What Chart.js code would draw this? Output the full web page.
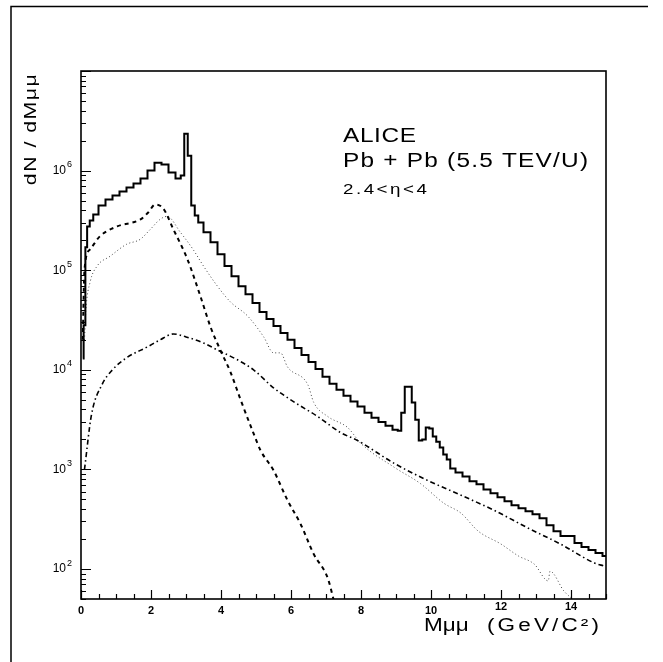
<!DOCTYPE html>
<html>
<head>
<meta charset="utf-8">
<script src="https://cdn.jsdelivr.net/npm/chart.js@4/dist/chart.umd.min.js"></script>
<style>
html,body{margin:0;padding:0;background:#fff;}
canvas{display:block;}
</style>
</head>
<body>
<canvas id="c" width="663" height="662"></canvas>
<script>
// ---- data ----
const totalMass  = [0.05,0.1,0.15,0.2,0.3,0.4,0.6,0.8,1.0,1.2,1.4,1.6,1.8,2.0,2.2,2.4,2.6,2.8,2.9,3.0,3.1,3.2,3.3,3.4,3.6,3.8,4.0,4.2,4.4,4.6,4.8,5.0,5.2,5.4,5.6,5.8,6.0,6.2,6.4,6.6,6.8,7.0,7.2,7.4,7.6,7.8,8.0,8.2,8.4,8.6,8.8,9.0,9.1,9.2,9.3,9.4,9.5,9.6,9.7,9.8,9.9,10.0,10.1,10.2,10.3,10.4,10.5,10.6,10.8,11.0,11.2,11.4,11.6,11.8,12.0,12.2,12.4,12.6,12.8,13.0,13.2,13.4,13.6,13.8,14.0,14.2,14.4,14.6,14.8,15.0];
const totalYield = [13000,28000,170000,275000,316000,363000,447000,513000,562000,617000,676000,741000,832000,1000000,1200000,1150000,955000,832000,891000,2340000,1410000,447000,355000,302000,240000,191000,145000,110000,87000,69000,57500,46800,38000,32400,27500,23400,20000,16600,14100,12000,10200,8500,7240,6300,5500,4800,4270,3700,3300,3000,2750,2500,2450,3700,6760,6760,4700,3160,1950,2000,2630,2570,2140,1900,1660,1410,1260,1020,930,850,760,710,630,575,525,480,436,407,380,355,324,275,240,214,214,182,166,155,145,135];

const dashedMass  = [0.05,0.1,0.26,0.54,1.03,1.7,1.92,2.12,2.35,2.64,3.04,3.41,3.7,3.98,4.27,4.56,4.93,5.13,5.5,5.9,6.28,6.65,7.05,7.22];
const dashedYield = [20000,102000,162000,219000,275000,324000,380000,457000,417000,257000,129000,55000,27000,15800,9500,5000,2300,1550,980,490,280,141,81,49];

const dottedMass  = [0.1,0.14,0.26,0.46,0.83,1.3,1.69,1.98,2.26,2.46,2.84,3.2,3.5,3.9,4.27,4.76,5.22,5.5,5.7,5.9,6.48,6.65,7.05,7.62,8.0,8.95,9.7,10.37,10.86,11.35,12.0,12.5,12.95,13.35,13.4,13.8,14.1];
const dottedYield = [20000,40000,76000,110000,138000,182000,204000,257000,324000,347000,240000,162000,110000,69000,48000,34700,21400,14800,14800,10700,7100,4700,3400,2630,1820,1050,720,457,363,240,178,135,112,76,95,60,48];

const dashDotMass  = [0.1,0.3,0.6,0.9,1.3,1.9,2.26,2.64,3.0,3.5,3.9,4.47,4.93,5.5,6.07,6.76,7.42,7.9,8.95,9.9,10.86,11.8,12.78,13.7,14.67,14.95];
const dashDotYield = [1000,3550,7100,10000,13200,17000,20000,22900,21400,18600,15800,12600,10000,6600,4800,3400,2340,1950,1150,776,550,389,257,178,115,107];

const xTickLabels = [0,2,4,6,8,10,12,14];
const yTickExponents = [2,3,4,5,6];
const annotationLines = ["ALICE", "Pb + Pb (5.5 TEV/U)", "2.4<\u03B7<4"];
const yTitle = "dN / dM\u03BC\u03BC";
const xTitleA = "M\u03BC\u03BC";
const xTitleB = "(GeV/C\u00B2)";

const pts = (xs, ys) => xs.map((x, i) => ({x, y: ys[i]}));
const FF = '"Liberation Sans", Arial, sans-serif';

function wideText(ctx, str, x, y, size, sx, ls, align) {
  ctx.save();
  ctx.translate(x, y);
  ctx.scale(sx, 1);
  ctx.font = size + 'px ' + FF;
  ctx.letterSpacing = ls + 'px';
  ctx.textAlign = align || 'left';
  ctx.textBaseline = 'alphabetic';
  ctx.fillText(str, 0, 0);
  ctx.restore();
}

const decor = {
  id: 'decor',
  afterDraw(chart) {
    const ctx = chart.ctx, a = chart.chartArea;
    const xs = chart.scales.x, ys = chart.scales.y;
    ctx.save();
    ctx.strokeStyle = '#000';
    ctx.fillStyle = '#000';
    // outer page frame (top and left)
    ctx.lineWidth = 1.5;
    ctx.beginPath();
    ctx.moveTo(11, 662); ctx.lineTo(11, 6.5); ctx.lineTo(648, 6.5);
    ctx.stroke();
    // plot frame
    ctx.lineWidth = 1.6;
    ctx.strokeRect(a.left, a.top, a.right - a.left, a.bottom - a.top);
    // x ticks
    ctx.lineWidth = 1.2;
    ctx.beginPath();
    for (let v = 0; v <= 15.001; v += 0.5) {
      const px = Math.round(xs.getPixelForValue(v)) + 0.5;
      const len = (Math.abs(v % 2) < 1e-6) ? 9 : 5;
      ctx.moveTo(px, a.bottom); ctx.lineTo(px, a.bottom - len);
    }
    ctx.stroke();
    // y ticks
    ctx.beginPath();
    for (let e = 1; e <= 7; e++) {
      for (let m = 1; m <= 9; m++) {
        const v = m * Math.pow(10, e);
        if (v < ys.min || v > ys.max) continue;
        const py = Math.round(ys.getPixelForValue(v)) + 0.5;
        const len = m === 1 ? 10 : 5;
        ctx.moveTo(a.left, py); ctx.lineTo(a.left + len, py);
      }
    }
    ctx.stroke();
    // x tick labels
    ctx.font = 'bold 11px ' + FF;
    ctx.textAlign = 'center'; ctx.textBaseline = 'top';
    xTickLabels.forEach(v => {
      const lift = v >= 12 ? 4 : 0;
      ctx.fillText(String(v), xs.getPixelForValue(v), a.bottom + 6 - lift);
    });
    // y tick labels
    yTickExponents.forEach(e => {
      const py = ys.getPixelForValue(Math.pow(10, e));
      ctx.font = '12px ' + FF;
      ctx.textAlign = 'right'; ctx.textBaseline = 'middle';
      ctx.fillText('10', a.left - 15, py);
      ctx.font = '9px ' + FF;
      ctx.textAlign = 'left';
      ctx.fillText(String(e), a.left - 14, py - 6);
    });
    // axis titles
    wideText(ctx, xTitleA, 424, 631, 18, 1.25, 0);
    wideText(ctx, xTitleB, 487, 631, 18, 1.25, 2.5);
    ctx.save();
    ctx.translate(36, 129);
    ctx.rotate(-Math.PI / 2);
    wideText(ctx, yTitle, 0, 0, 17, 1.25, 1.2, 'center');
    ctx.restore();
    // annotation
    wideText(ctx, annotationLines[0], 343, 142, 20, 1.22, 0.5);
    wideText(ctx, annotationLines[1], 343, 167, 20, 1.22, 1);
    wideText(ctx, annotationLines[2], 343, 194, 15, 1.25, 2);
    ctx.restore();
  }
};

new Chart(document.getElementById('c'), {
  type: 'line',
  data: {
    datasets: [
      { label: 'total', data: pts(totalMass, totalYield), stepped: 'middle',
        borderColor: '#000', borderWidth: 2, pointRadius: 0, fill: false },
      { label: 'dashed', data: pts(dashedMass, dashedYield), cubicInterpolationMode: 'monotone',
        borderColor: '#000', borderWidth: 2, borderDash: [4, 4], pointRadius: 0, fill: false },
      { label: 'dotted', data: pts(dottedMass, dottedYield), cubicInterpolationMode: 'monotone',
        borderColor: '#444', borderWidth: 1, borderDash: [1, 2.5], pointRadius: 0, fill: false },
      { label: 'dashdot', data: pts(dashDotMass, dashDotYield), cubicInterpolationMode: 'monotone',
        borderColor: '#000', borderWidth: 1.6, borderDash: [5, 3, 1.5, 3], pointRadius: 0, fill: false }
    ]
  },
  options: {
    responsive: false,
    devicePixelRatio: 1,
    animation: false,
    layout: { padding: { top: 71, right: 57, bottom: 0, left: 0 } },
    plugins: { legend: { display: false }, tooltip: { enabled: false } },
    scales: {
      x: { type: 'linear', min: 0, max: 15,
           grid: { display: false }, border: { display: false },
           ticks: { display: false },
           afterFit: s => { s.height = 63; } },
      y: { type: 'logarithmic', min: 50, max: 1e7,
           grid: { display: false }, border: { display: false },
           ticks: { display: false },
           afterFit: s => { s.width = 81; } }
    }
  },
  plugins: [decor]
});
</script>
</body>
</html>
